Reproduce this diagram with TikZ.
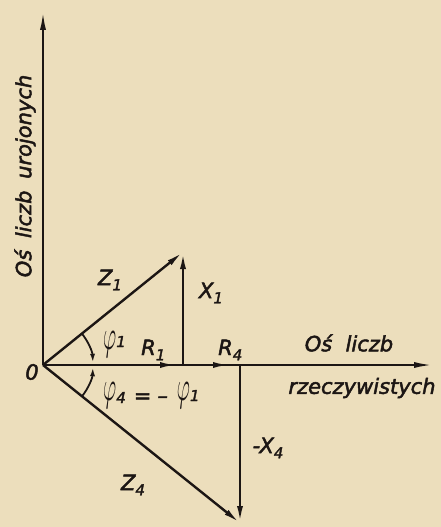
\documentclass[tikz,border=0pt]{standalone}
\usepackage{fontspec}
\usepackage{graphicx}
\newfontfamily\lab[FakeBold=2.2]{DejaVu Sans}
\usetikzlibrary{arrows.meta}
\definecolor{paper}{RGB}{236,222,188}
\definecolor{ink}{RGB}{28,22,20}
\newcommand\lowsb[1]{\raisebox{-0.25em}{\fontsize{15}{15}\selectfont #1}}
\newcommand\phisb[2]{\raisebox{#1}{\fontsize{15}{15}\selectfont #2}}
\newcommand\phig{\raisebox{6pt}{\scalebox{2}[4.2]{\fontsize{10}{12}\selectfont$\varphi$}}}
\tikzset{
  axis/.style={draw=ink, line width=2.4pt, -{Latex[length=20pt,width=6pt]}},
  vec/.style={draw=ink, line width=2.4pt, -{Latex[length=17pt,width=6pt]}},
  angarc/.style={draw=ink, line width=1.8pt, -{Latex[length=9pt,width=5pt]}},
  lbl/.style={text=ink, font=\lab\itshape\fontsize{21}{24}\selectfont, inner sep=0pt}
}
\begin{document}
\begin{tikzpicture}[x=1pt,y=-1pt]
\fill[paper] (0,0) rectangle (441,527);
\useasboundingbox (0,0) rectangle (441,527);
\coordinate (O) at (43,365);
\coordinate (yend) at (43,10);
\coordinate (xend) at (434,365);
\coordinate (Z1) at (183,252);
\coordinate (R1b) at (183,365);
\coordinate (R4b) at (240,365);
\coordinate (Z4) at (240,523);
\coordinate (r1m) at (177,365);
\coordinate (r4m) at (230,365);
\coordinate (a1) at (81.9,333.6);
\coordinate (a4) at (81.9,396.4);
% axes
\draw[axis] (O) -- (yend);
\draw[axis] (O) -- (xend);
% vectors
\draw[vec] (O) -- (Z1);
\draw[vec] (R1b) -- (Z1);
\draw[vec] (O) -- (r1m);
\draw[vec] (O) -- (r4m);
\draw[vec] (R4b) -- (Z4);
\draw[vec] (O) -- (Z4);
% angle arcs
\draw[angarc] (a1) arc[start angle=-38.9, end angle=-2.5, radius=50];
\draw[angarc] (a4) arc[start angle=38.9, end angle=2.5, radius=50];
% labels
\node[lbl, rotate=90] (ylab) at (25,176) {Oś\hspace{5pt} liczb\hspace{5pt} urojonych};
\node[lbl] (zero) at (32,372) {0};
\node[lbl] (lz1) at (110,280) {Z\lowsb{1}};
\node[lbl] (lx1) at (211,293) {X\lowsb{1}};
\node[lbl, anchor=base west] (lphi1) at (103,355) {\phig\phisb{8pt}{1}};
\node[lbl, anchor=base west] (lr1) at (141,355) {R\lowsb{1}};
\node[lbl, anchor=base west] (lr4) at (218,355) {R\lowsb{4}};
\node[lbl] (xl1) at (349,343) {Oś\ \ liczb};
\node[lbl] (xl2) at (362,388) {rzeczywistych};
\node[lbl, anchor=base west] (lphi4) at (103,406) {\phig\phisb{3pt}{4}\hspace{8pt}\raisebox{3pt}{=}\hspace{6pt}\raisebox{3pt}{–}\hspace{9pt}\phig\phisb{5pt}{1}};
\node[lbl] (lx4) at (268,448) {-X\lowsb{4}};
\node[lbl] (lz4) at (133,485) {Z\lowsb{4}};
\end{tikzpicture}
\end{document}
